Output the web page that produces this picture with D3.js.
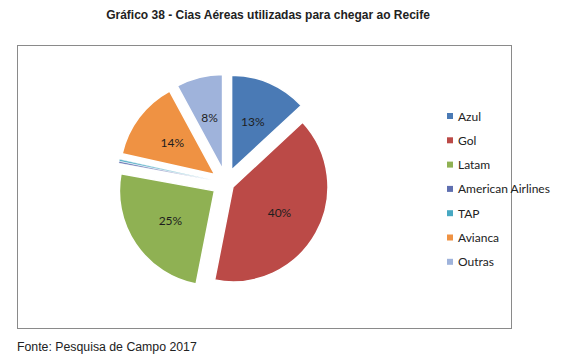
<!DOCTYPE html>
<html>
<head>
<meta charset="utf-8">
<script src="https://cdn.jsdelivr.net/npm/d3@7"></script>
<style>
  html, body { margin: 0; padding: 0; background: #fff; }
  svg { display: block; }
</style>
</head>
<body>
<svg id="chart" width="574" height="356"></svg>
<script>
// ---- data ----
const categories = ["Azul", "Gol", "Latam", "American Airlines", "TAP", "Avianca", "Outras"];
const values = [13.1, 40.0, 24.8, 0.3, 0.3, 13.6, 7.9];
const labels = ["13%", "40%", "25%", "", "", "14%", "8%"];
const titleText = "Gráfico 38 - Cias Aéreas utilizadas para chegar ao Recife";
const sourceText = "Fonte: Pesquisa de Campo 2017";

// ---- style ----
const colors = ["#4a7ab5", "#bb4a47", "#8fb153", "#5f6fb0", "#47a8c2", "#ef9243", "#9fb3db"];
const explode = [14, 8, 14, 14, 14, 14, 14];

const svg = d3.select("#chart");

svg.append("text")
  .attr("x", 268).attr("y", 19)
  .attr("text-anchor", "middle")
  .attr("font-family", "Liberation Sans, Arial, sans-serif")
  .attr("font-weight", "bold")
  .attr("font-size", 12)
  .attr("fill", "#222")
  .text(titleText);

svg.append("rect")
  .attr("x", 17.5).attr("y", 45.5)
  .attr("width", 494).attr("height", 283)
  .attr("fill", "#fff")
  .attr("stroke", "#8a8a8a")
  .attr("stroke-width", 1);

const cx = 226, cy = 183, r = 95;
const pie = d3.pie().sort(null).value(d => d)(values);
const arc = d3.arc().innerRadius(0).outerRadius(r);
const labelArc = d3.arc().innerRadius(r * 0.56).outerRadius(r * 0.56);

const g = svg.append("g").attr("transform", `translate(${cx},${cy})`);

const slices = g.selectAll("g.slice").data(pie).join("g")
  .attr("class", "slice")
  .attr("transform", (d, i) => {
    const a = (d.startAngle + d.endAngle) / 2;
    return `translate(${Math.sin(a) * explode[i]},${-Math.cos(a) * explode[i]})`;
  });

slices.append("path")
  .attr("d", arc)
  .attr("fill", (d, i) => colors[i])
  .attr("stroke", "#fff")
  .attr("stroke-width", d => d.data < 1 ? 0.5 : 1.5)
  .attr("stroke-linejoin", "round");

slices.append("text")
  .attr("transform", d => `translate(${labelArc.centroid(d)})`)
  .attr("text-anchor", "middle")
  .attr("dominant-baseline", "central")
  .attr("font-family", "Lato, 'Open Sans', sans-serif")
  .attr("font-size", 12)
  .attr("fill", "#1e1e1e")
  .text((d, i) => labels[i]);

// legend
const legend = svg.append("g").attr("transform", "translate(447,116)");
const li = legend.selectAll("g").data(categories).join("g")
  .attr("transform", (d, i) => `translate(0,${i * 24.3})`);
li.append("rect")
  .attr("x", 0).attr("y", -3).attr("width", 6).attr("height", 6)
  .attr("fill", (d, i) => colors[i]);
li.append("text")
  .attr("x", 11).attr("y", 0)
  .attr("dominant-baseline", "central")
  .attr("font-family", "Lato, 'Open Sans', sans-serif")
  .attr("font-size", 12)
  .attr("fill", "#222")
  .text(d => d);

svg.append("text")
  .attr("x", 17).attr("y", 351)
  .attr("font-family", "Liberation Sans, Arial, sans-serif")
  .attr("font-size", 12.3)
  .attr("fill", "#222")
  .text(sourceText);
</script>
</body>
</html>
